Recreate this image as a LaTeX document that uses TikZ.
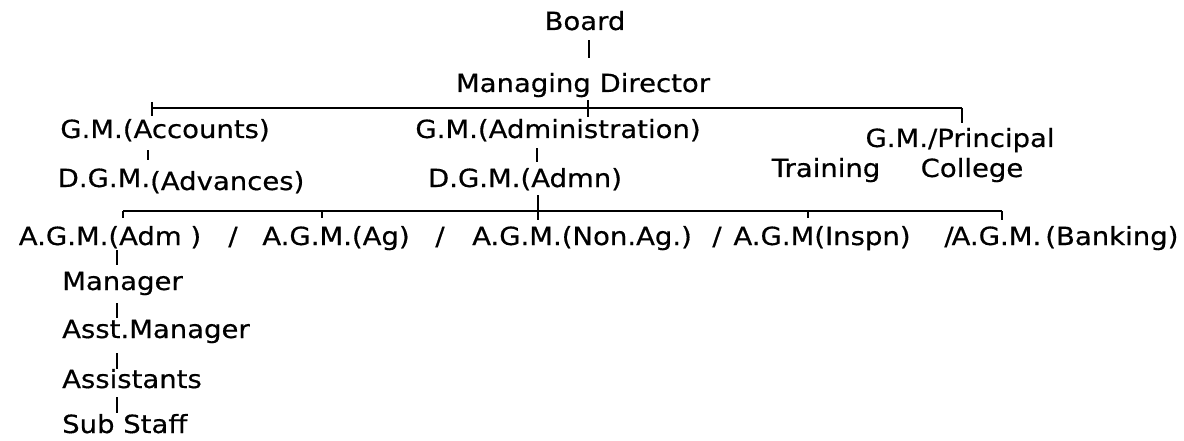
\documentclass[tikz,border=0pt]{standalone}
\usepackage{fontspec}
\setmainfont{DejaVu Sans}[FakeStretch=1.1,FakeBold=0.5]
\begin{document}
\begin{tikzpicture}[x=1pt,y=-1pt,
  lbl/.style={anchor=base, inner sep=0pt, text height=18pt, text depth=0pt,
              font=\fontsize{25}{29}\selectfont},
  bus/.style={line width=1.7pt},
  link/.style={line width=2.3pt}]
\useasboundingbox (0,0) rectangle (1184,441);

% ---- top levels
\node[lbl] (board) at (585,30) {Board};
\node[lbl] (md)    at (583,92) {Managing Director};
\node[lbl] (acc)   at (165,138) {G.M.(Accounts)};
\node[lbl] (gadm)  at (558,138) {G.M.(Administration)};
\node[lbl] (prin)  at (960,147) {G.M./Principal};
\node[lbl] (trn)   at (826,177) {Training};
\node[lbl] (col)   at (972,177) {College};
\node[lbl] (adv)   at (181,187) {D.G.M.\raisebox{-3pt}{(Advances)}};
\node[lbl] (dadm)  at (525,187) {D.G.M.(Admn)};

% ---- assistant general managers
\node[lbl] (a1) at (110,245) {A.G.M.(Adm )};
\node[lbl] (s1) at (233,245) {/};
\node[lbl] (a2) at (336,245) {A.G.M.(Ag)};
\node[lbl] (s2) at (440,245) {/};
\node[lbl] (a3) at (582,245) {A.G.M.(Non.Ag.)};
\node[lbl] (s3) at (717,245) {/};
\node[lbl] (a4) at (822,245) {A.G.M(Inspn)};
\node[lbl] (s4) at (949,245) {/};
\node[lbl] (a5) at (1065,245) {A.G.M.\,(Banking)};

% ---- branch staff
\node[lbl, anchor=base west] (mgr)  at (62,290) {Manager};
\node[lbl, anchor=base west] (asst) at (62,338) {Asst.Manager};
\node[lbl, anchor=base west] (asts) at (62,388) {Assistants};
\node[lbl, anchor=base west] (sub)  at (62,433) {Sub Staff};

% ---- bus ends and connector columns
\coordinate (busAL) at (152,108);
\coordinate (busAR) at (962,108);
\coordinate (busBL) at (123,211);
\coordinate (busBR) at (1002,211);
\coordinate (xbd)  at (589,0);
\coordinate (xmd)  at (588,0);
\coordinate (xacc) at (148,0);
\coordinate (xga)  at (537,0);
\coordinate (xdg)  at (538,0);
\coordinate (xag)  at (322,0);
\coordinate (xin)  at (808,0);
\coordinate (xch)  at (117,0);

% ---- connectors
\draw[link, shorten <=10pt, shorten >=16pt] (board.south -| xbd) -- (md.north -| xbd);
\draw[bus] (busAL) -- (busAR);
\draw[link, shorten >=4pt] ([yshift=6pt]busAL) -- (acc.north -| busAL);
\draw[link, shorten <=8pt, shorten >=3pt] (md.south -| xmd) -- (gadm.north -| xmd);
\draw[link, shorten >=6pt] (busAR) -- (prin.north -| busAR);
\draw[link, shorten <=12pt, shorten >=9pt] (acc.south -| xacc) -- (adv.north -| xacc);
\draw[link, shorten <=10pt, shorten >=7pt] (gadm.south -| xga) -- (dadm.north -| xga);

\draw[bus] (busBL) -- (busBR);
\draw[link, shorten <=8pt, shorten >=7pt] (dadm.south -| xdg) -- (a3.north -| xdg);
\draw[link, shorten >=9pt] (busBL) -- (a1.north -| busBL);
\draw[link, shorten >=9pt] (busBL -| xag) -- (a2.north -| xag);
\draw[link, shorten >=9pt] (busBL -| xin) -- (a4.north -| xin);
\draw[link, shorten >=7pt] (busBR) -- (a5.north -| busBR);

\draw[link, shorten <=5pt, shorten >=7pt] (a1.south -| xch) -- (mgr.north -| xch);
\draw[link, shorten <=13pt, shorten >=2pt] (mgr.south -| xch) -- (asst.north -| xch);
\draw[link, shorten <=15pt, shorten >=1pt] (asst.south -| xch) -- (asts.north -| xch);
\draw[link, shorten <=9pt, shorten >=2pt] (asts.south -| xch) -- (sub.north -| xch);
\end{tikzpicture}
\end{document}
